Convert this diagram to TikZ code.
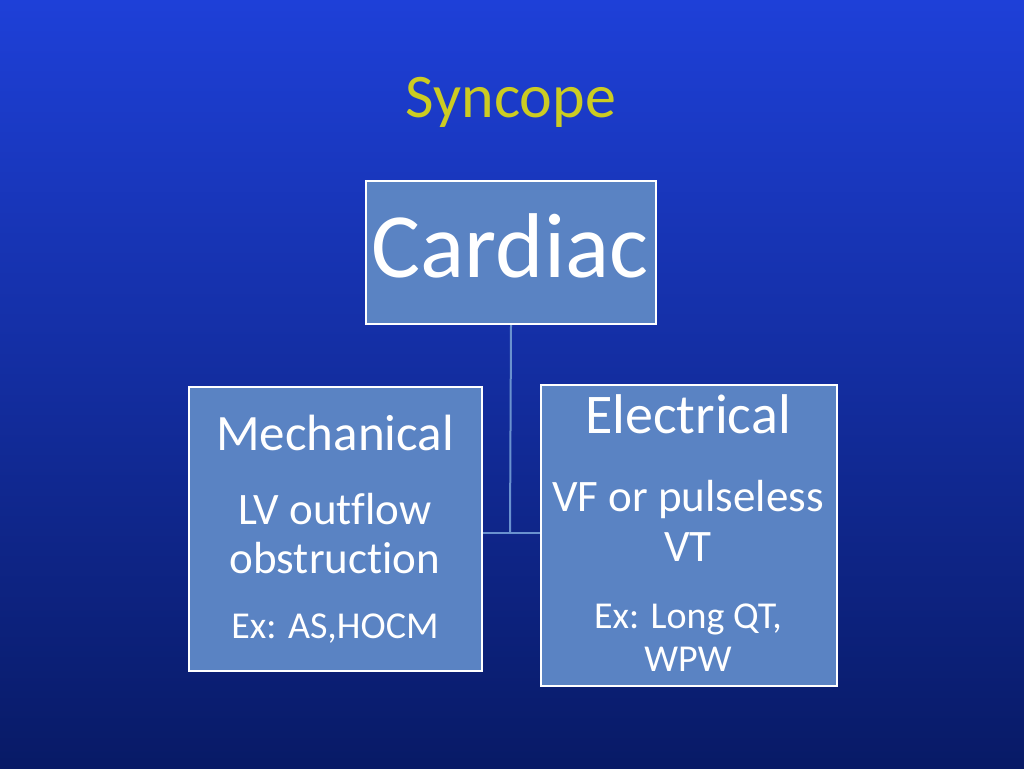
\documentclass[tikz,border=0pt]{standalone}
\usepackage{fontspec}
\setmainfont[Ligatures=NoCommon]{Carlito}
\definecolor{boxc}{HTML}{5A83C3}
\definecolor{linec}{HTML}{6A92CF}
\definecolor{titlec}{HTML}{CCCC22}
\definecolor{bgA}{HTML}{1E40D8}
\definecolor{bgB}{HTML}{0C2A9A}
\definecolor{bgC}{HTML}{081A66}
\begin{document}
\begin{tikzpicture}[x=1pt,y=-1pt,
  box/.style={draw=white,line width=2pt,fill=boxc},
  txt/.style={text=white,inner sep=0pt,anchor=base},
  conn/.style={draw=linec,line width=2pt}]
\useasboundingbox (0,0) rectangle (1024,768);
\shade[shading angle=135,top color=bgA,middle color=bgB,bottom color=bgC] (0,0) rectangle (1024,768);
\node[text=titlec,inner sep=0pt,anchor=base,font=\fontsize{62}{62}\selectfont] (title) at (511,117) {Syncope};
\node[box,minimum width=290pt,minimum height=143pt,anchor=north west] (cardiac) at (365,180) {};
\node[box,minimum width=293pt,minimum height=284pt,anchor=north west] (mech) at (188,386) {};
\node[box,minimum width=296pt,minimum height=301pt,anchor=north west] (elec) at (540,384) {};
\coordinate (j) at (510,533);
\draw[conn] (cardiac.south) -- (j);
\draw[conn] (mech.east |- j) -- (elec.west |- j);
\node[txt,font=\fontsize{92}{92}\selectfont] (c1) at (510,277) {Cardiac};
\node[txt,font=\fontsize{51}{51}\selectfont] (m1) at (335,450) {Mechanical};
\node[txt,font=\fontsize{45}{45}\selectfont] (m2) at (335,524) {LV outflow};
\node[txt,font=\fontsize{45}{45}\selectfont] (m3) at (335,573) {obstruction};
\node[txt,font=\fontsize{38}{38}\selectfont] (m4) at (335,638) {Ex: AS,HOCM};
\node[txt,font=\fontsize{56}{56}\selectfont] (e1) at (688,433) {Electrical};
\node[txt,font=\fontsize{45}{45}\selectfont] (e2) at (688,511) {VF or pulseless};
\node[txt,font=\fontsize{45}{45}\selectfont] (e3) at (688,561) {VT};
\node[txt,font=\fontsize{38}{38}\selectfont] (e4) at (688,628) {Ex: Long QT,};
\node[txt,font=\fontsize{38}{38}\selectfont] (e5) at (688,671) {WPW};
\end{tikzpicture}
\end{document}
